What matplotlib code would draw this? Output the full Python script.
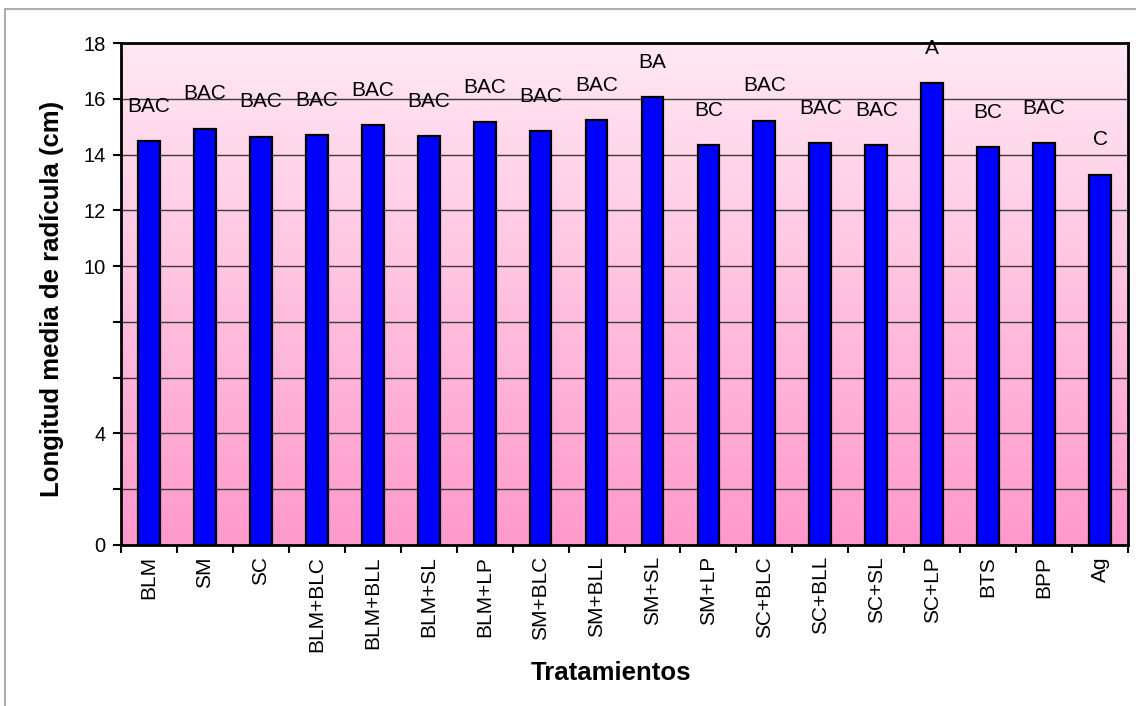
import numpy as np
import matplotlib
matplotlib.use("Agg")
import matplotlib.pyplot as plt
from matplotlib.colors import LinearSegmentedColormap
from matplotlib.patches import Rectangle

categories = ["BLM", "SM", "SC", "BLM+BLC", "BLM+BLL", "BLM+SL", "BLM+LP", "SM+BLC",
              "SM+BLL", "SM+SL", "SM+LP", "SC+BLC", "SC+BLL", "SC+SL", "SC+LP",
              "BTS", "BPP", "Ag"]
values = [14.48, 14.93, 14.63, 14.69, 15.05, 14.66, 15.16, 14.84,
          15.23, 16.06, 14.34, 15.21, 14.40, 14.34, 16.56, 14.26, 14.40, 13.27]
letters = ["BAC", "BAC", "BAC", "BAC", "BAC", "BAC", "BAC", "BAC",
           "BAC", "BA", "BC", "BAC", "BAC", "BAC", "A", "BC", "BAC", "C"]
ytick_vals = [0, 2, 4, 6, 8, 10, 12, 14, 16, 18]
ytick_labels = ["0", "", "4", "", "", "10", "12", "14", "16", "18"]

plt.rcParams['font.family'] = ['Liberation Sans', 'DejaVu Sans']

W, H = 1136, 706
fig = plt.figure(figsize=(W / 100, H / 100), dpi=100)
fig.patch.set_facecolor("white")

# outer chart border (only top and left visible)
fig.add_artist(Rectangle((5 / W, -0.1), 1.2, 1 - 9 / H + 0.1, transform=fig.transFigure,
                         fill=False, edgecolor="#9aa09a", linewidth=1.2))

left, right, top, bottom = 121, 1128, 43, 545
ax = fig.add_axes([left / W, 1 - bottom / H, (right - left) / W, (bottom - top) / H])

# gradient background
cmap = LinearSegmentedColormap.from_list("pinkgrad", ["#FF99CC", "#FFE8F3"])
grad = np.linspace(0, 1, 256).reshape(-1, 1)
ax.imshow(grad, aspect="auto", cmap=cmap, origin="lower",
          extent=[-0.5, len(categories) - 0.5, 0, 18], zorder=0)

x = np.arange(len(categories))
ax.set_xlim(-0.5, len(categories) - 0.5)
ax.set_ylim(0, 18)

for yv in ytick_vals[1:-1]:
    ax.axhline(yv, color="#3a3a3a", linewidth=1.0, zorder=1)

ax.bar(x, values, width=0.39, color="#0000FF", edgecolor="black", linewidth=1.6, zorder=2)

for xi, v, lab in zip(x, values, letters):
    ax.annotate(lab, (xi, v), xytext=(0, 35), textcoords="offset pixels",
                ha="center", va="center", fontsize=15, color="black",
                annotation_clip=False, zorder=3)

ax.set_yticks(ytick_vals)
ax.set_yticklabels(ytick_labels, fontsize=14.5)
ax.set_xticks(np.arange(-0.5, len(categories), 1.0))
ax.set_xticklabels([])
ax.set_xticks(x, minor=True)
ax.set_xticklabels(categories, minor=True, rotation=90, fontsize=15)
ax.tick_params(axis="x", which="minor", length=0, pad=8)
ax.tick_params(axis="x", which="major", length=6, width=1.5, direction="out")
ax.tick_params(axis="y", length=6, width=1.5, direction="out", pad=5)

for s in ax.spines.values():
    s.set_linewidth(2.0)
    s.set_color("black")

fig.text(611 / W, 1 - 673 / H, "Tratamientos", ha="center", va="center",
         fontsize=18.5, fontweight="bold")
fig.text(52 / W, 1 - 299 / H, "Longitud media de radícula (cm)", ha="center", va="center",
         rotation=90, fontsize=18.5, fontweight="bold")

fig.savefig("out.png", dpi=100, facecolor="white")
